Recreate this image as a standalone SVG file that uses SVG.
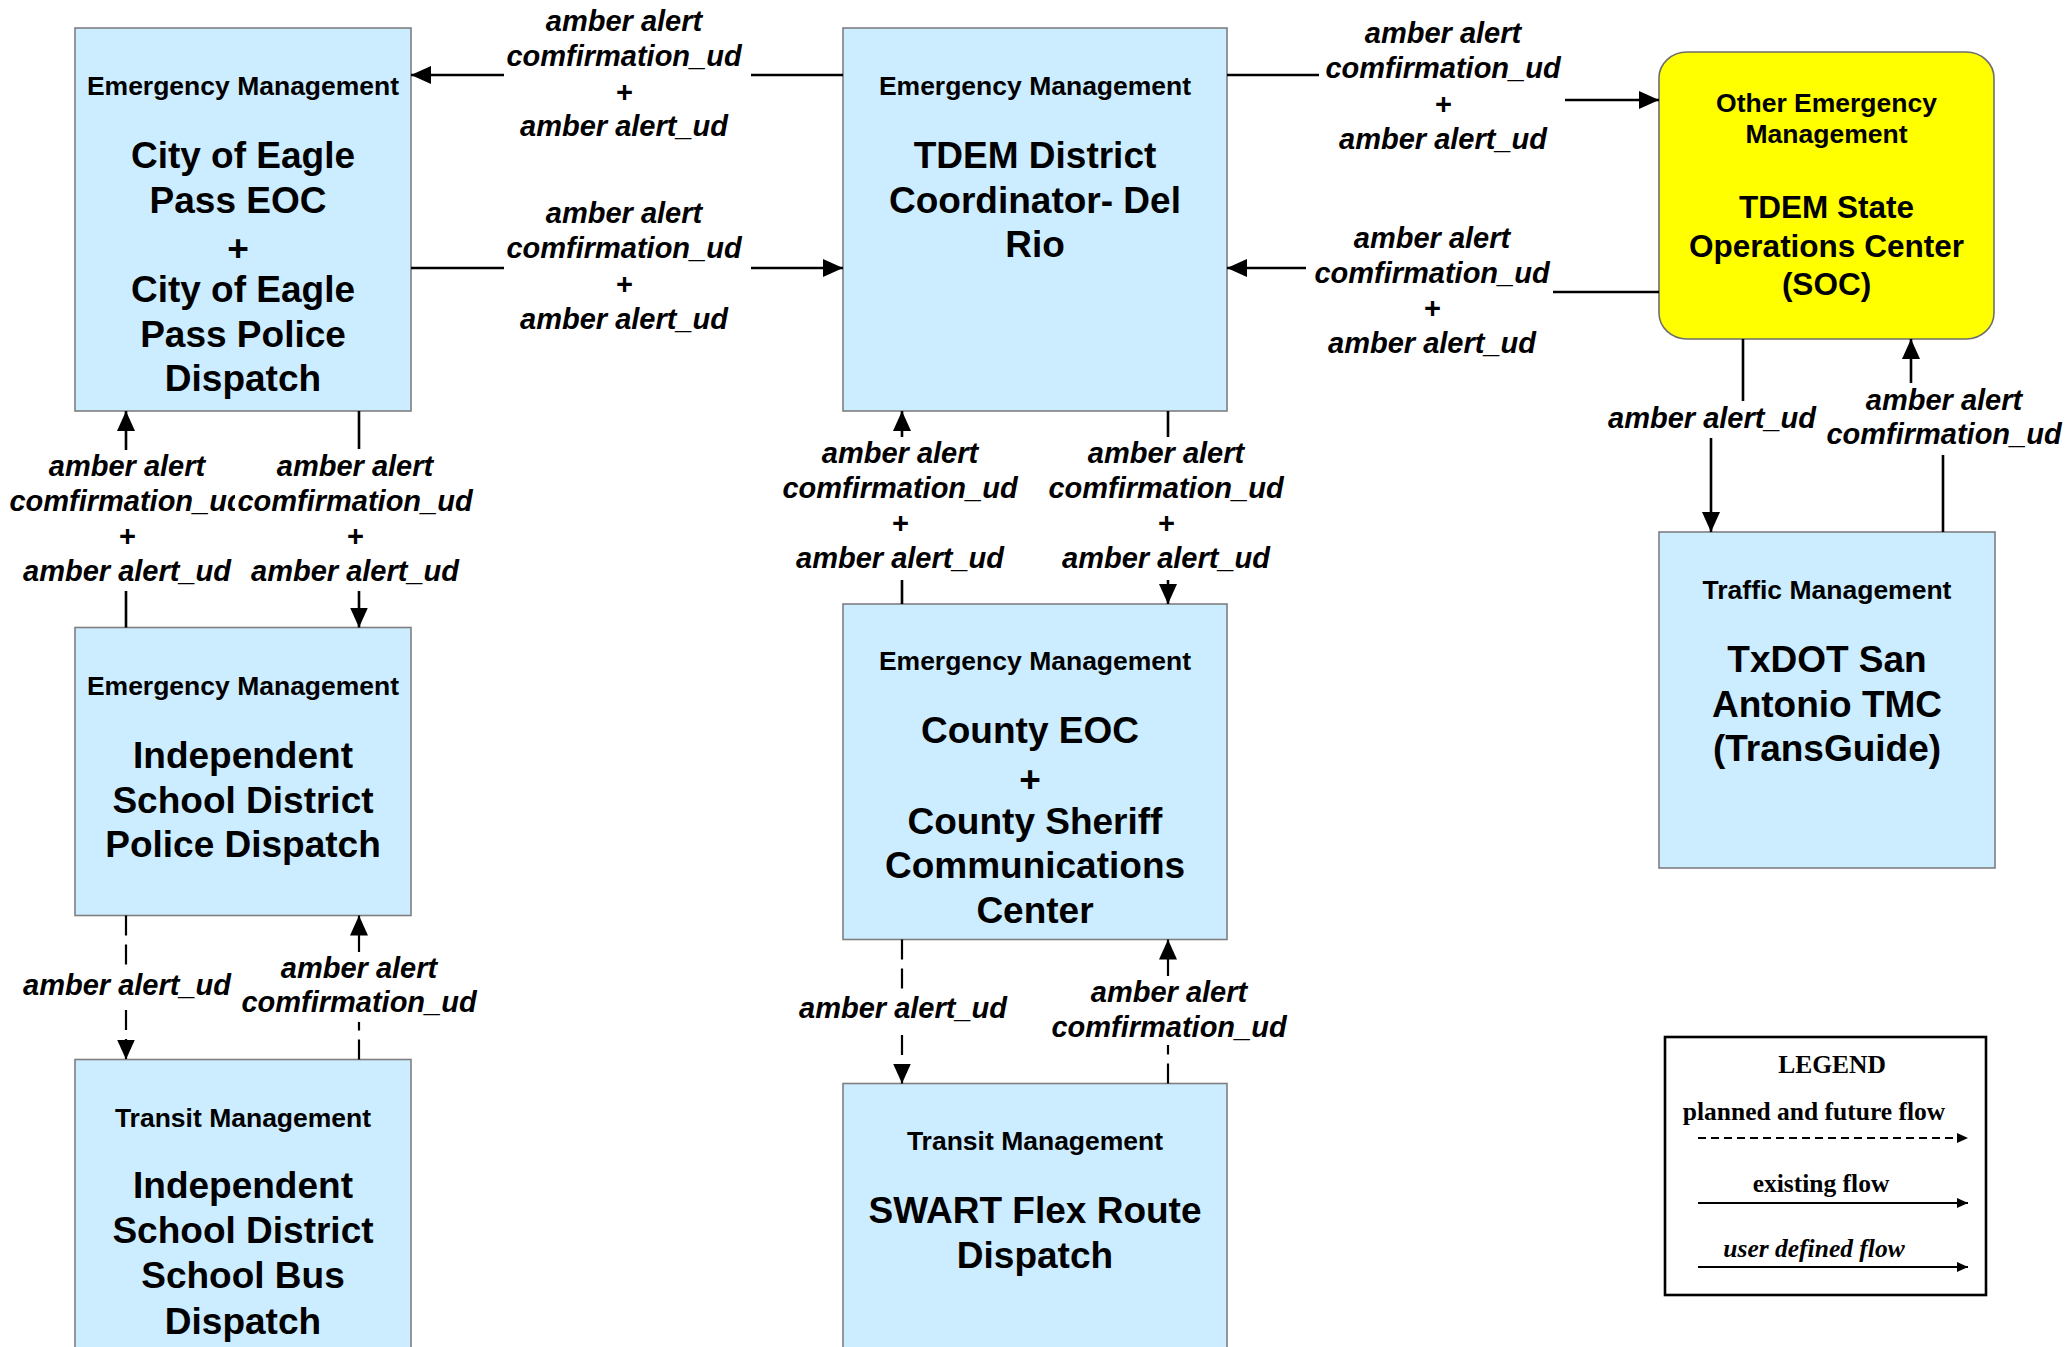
<svg xmlns="http://www.w3.org/2000/svg" width="2070" height="1347" viewBox="0 0 2070 1347">
<style>
.box{fill:#CCECFF;stroke:#7F7F7F;stroke-width:1.6}
.soc{fill:#FFFF00;stroke:#6E6E6E;stroke-width:1.6}
.hdr{font-family:"Liberation Sans",Arial,sans-serif;font-weight:bold;font-size:26.5px;text-anchor:middle;fill:#000}
.nm{font-family:"Liberation Sans",Arial,sans-serif;font-weight:bold;font-size:37px;text-anchor:middle;fill:#000}
.nms{font-family:"Liberation Sans",Arial,sans-serif;font-weight:bold;font-size:31.5px;text-anchor:middle;fill:#000}
.lbl{font-family:"Liberation Sans",Arial,sans-serif;font-weight:bold;font-style:italic;font-size:29px;text-anchor:middle;fill:#000}
.ln{fill:none;stroke:#000;stroke-width:2.6;marker-end:url(#arr)}
.dl{fill:none;stroke:#000;stroke-width:2.2;stroke-dasharray:20 9;marker-end:url(#arr)}
.lg{font-family:"Liberation Serif","Times New Roman",serif;font-weight:bold;font-size:25.5px;text-anchor:middle;fill:#000}
.lgl{fill:none;stroke:#000;stroke-width:2;marker-end:url(#sarr)}
</style>
<defs>
<marker id="arr" markerUnits="userSpaceOnUse" markerWidth="20" markerHeight="18" refX="20" refY="9" orient="auto"><path d="M0,0 L20,9 L0,18 z" fill="#000"/></marker>
<marker id="sarr" markerUnits="userSpaceOnUse" markerWidth="11" markerHeight="10" refX="11" refY="5" orient="auto"><path d="M0,0 L11,5 L0,10 z" fill="#000"/></marker>
</defs>
<rect width="2070" height="1347" fill="#fff"/>

<g id="node-city">
<rect class="box" x="75" y="28" width="336" height="383"/>
<text class="hdr" x="243" y="95">Emergency Management</text>
<text class="nm" x="243" y="168">City of Eagle</text>
<text class="nm" x="238" y="212.5">Pass EOC</text>
<text class="nm" x="238" y="261">+</text>
<text class="nm" x="243" y="302">City of Eagle</text>
<text class="nm" x="243" y="347">Pass Police</text>
<text class="nm" x="243" y="391">Dispatch</text>
</g>

<g id="node-tdem-district">
<rect class="box" x="843" y="28" width="384" height="383"/>
<text class="hdr" x="1035" y="95">Emergency Management</text>
<text class="nm" x="1035" y="168">TDEM District</text>
<text class="nm" x="1035" y="212.5">Coordinator- Del</text>
<text class="nm" x="1035" y="257">Rio</text>
</g>

<g id="node-soc">
<rect class="soc" x="1659" y="52" width="335" height="287" rx="28" ry="26"/>
<text class="hdr" x="1826.5" y="112">Other Emergency</text>
<text class="hdr" x="1826.5" y="143">Management</text>
<text class="nms" x="1826.5" y="217.5">TDEM State</text>
<text class="nms" x="1826.5" y="257">Operations Center</text>
<text class="nms" x="1826.5" y="295">(SOC)</text>
</g>

<g id="node-traffic">
<rect class="box" x="1659" y="532" width="336" height="336"/>
<text class="hdr" x="1827" y="598.5">Traffic Management</text>
<text class="nm" x="1827" y="672">TxDOT San</text>
<text class="nm" x="1827" y="717">Antonio TMC</text>
<text class="nm" x="1827" y="761">(TransGuide)</text>
</g>

<g id="node-isd-police">
<rect class="box" x="75" y="627.5" width="336" height="288"/>
<text class="hdr" x="243" y="695">Emergency Management</text>
<text class="nm" x="243" y="768">Independent</text>
<text class="nm" x="243" y="812.5">School District</text>
<text class="nm" x="243" y="857">Police Dispatch</text>
</g>

<g id="node-county">
<rect class="box" x="843" y="604" width="384" height="335.5"/>
<text class="hdr" x="1035" y="670">Emergency Management</text>
<text class="nm" x="1030" y="742.5">County EOC</text>
<text class="nm" x="1030" y="792">+</text>
<text class="nm" x="1035" y="833.5">County Sheriff</text>
<text class="nm" x="1035" y="878">Communications</text>
<text class="nm" x="1035" y="922.5">Center</text>
</g>

<g id="node-isd-bus">
<rect class="box" x="75" y="1059.5" width="336" height="300"/>
<text class="hdr" x="243" y="1126.5">Transit Management</text>
<text class="nm" x="243" y="1198">Independent</text>
<text class="nm" x="243" y="1243">School District</text>
<text class="nm" x="243" y="1288">School Bus</text>
<text class="nm" x="243" y="1333.5">Dispatch</text>
</g>

<g id="node-swart">
<rect class="box" x="843" y="1083.5" width="384" height="280"/>
<text class="hdr" x="1035" y="1150">Transit Management</text>
<text class="nm" x="1035" y="1223">SWART Flex Route</text>
<text class="nm" x="1035" y="1268">Dispatch</text>
</g>

<g id="connectors">
<path class="ln" d="M843,75 H751 M504,75 H411"/>
<path class="ln" d="M411,268 H504 M751,268 H843"/>
<path class="ln" d="M1227,75 H1319 M1565,100 H1659"/>
<path class="ln" d="M1659,292 H1553 M1306,268 H1227"/>
<path class="ln" d="M1743,339 V401 M1711,438 V532"/>
<path class="ln" d="M1943,532 V455 M1911,383 V339"/>
<path class="ln" d="M126,627.5 V591 M126,450 V411"/>
<path class="ln" d="M359,411 V449 M359,591 V627.5"/>
<path class="ln" d="M902,604 V580 M902,437 V411"/>
<path class="ln" d="M1168,411 V437 M1168,580 V604"/>
<path class="dl" d="M126,915.5 V967 M126,1010 V1059.5"/>
<path class="dl" d="M359,1059.5 V1022 M359,952 V915.5"/>
<path class="dl" d="M902,939.5 V990 M902,1035 V1083.5"/>
<path class="dl" d="M1168,1083.5 V1045 M1168,976 V939.5"/>
</g>

<g id="labels">
<text class="lbl" x="624" y="31">amber alert</text>
<text class="lbl" x="624" y="65.5">comfirmation_ud</text>
<text class="lbl" x="624" y="102">+</text>
<text class="lbl" x="624" y="136">amber alert_ud</text>

<text class="lbl" x="624" y="223">amber alert</text>
<text class="lbl" x="624" y="258">comfirmation_ud</text>
<text class="lbl" x="624" y="294">+</text>
<text class="lbl" x="624" y="329">amber alert_ud</text>

<text class="lbl" x="1443" y="43">amber alert</text>
<text class="lbl" x="1443" y="78">comfirmation_ud</text>
<text class="lbl" x="1443" y="114">+</text>
<text class="lbl" x="1443" y="149">amber alert_ud</text>

<text class="lbl" x="1432" y="248">amber alert</text>
<text class="lbl" x="1432" y="283">comfirmation_ud</text>
<text class="lbl" x="1432" y="318">+</text>
<text class="lbl" x="1432" y="353">amber alert_ud</text>

<text class="lbl" x="1712" y="428">amber alert_ud</text>

<text class="lbl" x="1944" y="410">amber alert</text>
<text class="lbl" x="1944" y="444">comfirmation_ud</text>

<text class="lbl" x="127" y="476">amber alert</text>
<text class="lbl" x="127" y="511">comfirmation_ud</text>
<text class="lbl" x="127" y="546">+</text>
<text class="lbl" x="127" y="581">amber alert_ud</text>

<rect x="235" y="487" width="240" height="32" fill="#fff"/>
<text class="lbl" x="355" y="476">amber alert</text>
<text class="lbl" x="355" y="511">comfirmation_ud</text>
<text class="lbl" x="355" y="546">+</text>
<text class="lbl" x="355" y="581">amber alert_ud</text>

<text class="lbl" x="900" y="463">amber alert</text>
<text class="lbl" x="900" y="498">comfirmation_ud</text>
<text class="lbl" x="900" y="533">+</text>
<text class="lbl" x="900" y="568">amber alert_ud</text>

<text class="lbl" x="1166" y="463">amber alert</text>
<text class="lbl" x="1166" y="498">comfirmation_ud</text>
<text class="lbl" x="1166" y="533">+</text>
<text class="lbl" x="1166" y="568">amber alert_ud</text>

<text class="lbl" x="127" y="995">amber alert_ud</text>
<text class="lbl" x="359" y="978">amber alert</text>
<text class="lbl" x="359" y="1012">comfirmation_ud</text>

<text class="lbl" x="903" y="1018">amber alert_ud</text>
<text class="lbl" x="1169" y="1002">amber alert</text>
<text class="lbl" x="1169" y="1037">comfirmation_ud</text>
</g>

<g id="legend">
<rect x="1665" y="1037" width="321" height="258" fill="#fff" stroke="#000" stroke-width="2.6"/>
<text class="lg" x="1832" y="1073">LEGEND</text>
<text class="lg" x="1814" y="1120">planned and future flow</text>
<path class="lgl" d="M1698,1138 H1968" stroke-dasharray="8 5"/>
<text class="lg" x="1821" y="1192">existing flow</text>
<path class="lgl" d="M1698,1203 H1968"/>
<text class="lg" x="1814" y="1257" font-style="italic">user defined flow</text>
<path class="lgl" d="M1698,1267 H1968"/>
</g>
</svg>
